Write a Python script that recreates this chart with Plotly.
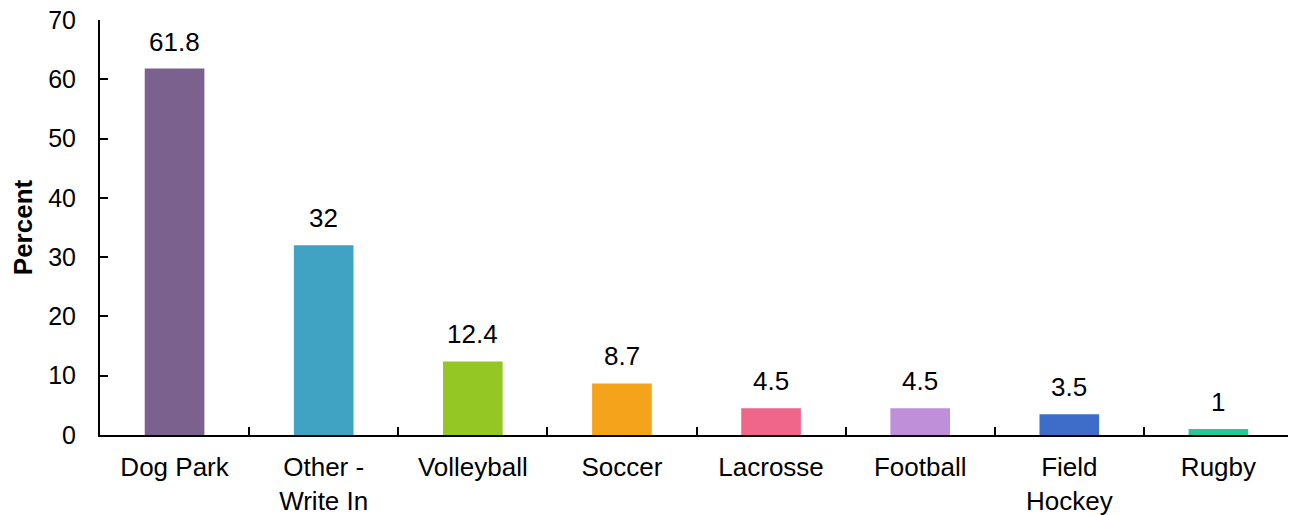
import plotly.graph_objects as go

categories = ["Dog Park", "Other -<br>Write In", "Volleyball", "Soccer", "Lacrosse",
              "Football", "Field<br>Hockey", "Rugby"]
percent = [61.8, 32, 12.4, 8.7, 4.5, 4.5, 3.5, 1]
bar_colors = ["#7B618E", "#41A3C4", "#94C723", "#F5A31A", "#F0668A",
              "#BF8FD9", "#3D6CC9", "#26C79A"]

fig = go.Figure()
fig.add_trace(go.Bar(
    x=categories, y=percent,
    marker=dict(color=bar_colors, line=dict(width=0)),
    width=0.4,
))

# value labels above the bars
for cat, v in zip(categories, percent):
    fig.add_annotation(x=cat, y=v, text=f"{v:g}", showarrow=False,
                       yanchor="bottom", yshift=10,
                       font=dict(size=26, color="black"))

# page body adds an 8px offset, so the figure is sized to fit the window
fig.update_layout(
    width=1288, height=507,
    margin=dict(l=92, r=3, t=12, b=80),
    plot_bgcolor="white", paper_bgcolor="white",
    font=dict(family="Liberation Sans, Arial", size=26, color="black"),
    showlegend=False,
)
fig.update_xaxes(
    showline=True, linecolor="black", linewidth=2,
    ticks="inside", ticklen=8, tickwidth=2, tickcolor="black",
    tickson="boundaries", showgrid=False, automargin=False,
    tickfont=dict(size=26), ticklabelstandoff=8,
)
fig.update_yaxes(
    range=[0, 70], dtick=10,
    showline=True, linecolor="black", linewidth=2,
    ticks="inside", ticklen=8, tickwidth=2, tickcolor="black",
    showgrid=False, zeroline=False, automargin=False,
    tickfont=dict(size=25), ticklabelstandoff=17,
    ticklabeloverflow="allow",
    title=dict(text="<b>Percent</b>", font=dict(size=26), standoff=8),
)

fig.write_html("out.html")
